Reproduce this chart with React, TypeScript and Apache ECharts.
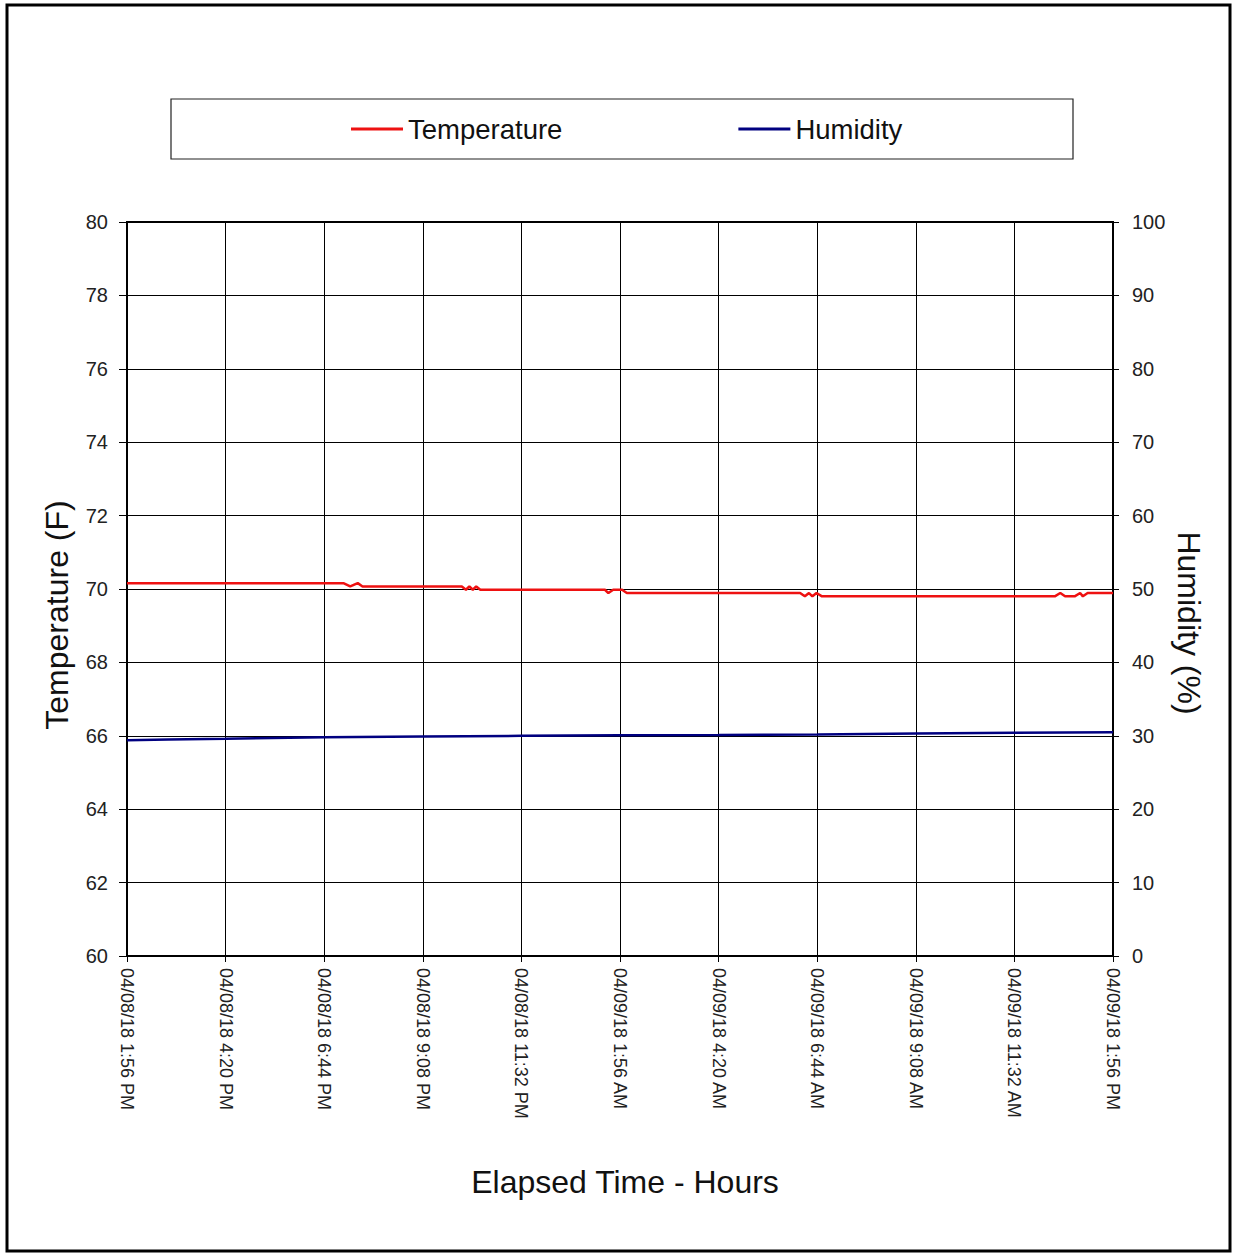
import React, { useEffect, useRef } from "react";
import * as echarts from "echarts";

// x values are minutes elapsed from 04/08/18 1:56 PM
const tickLabels = [
  "04/08/18 1:56 PM",
  "04/08/18 4:20 PM",
  "04/08/18 6:44 PM",
  "04/08/18 9:08 PM",
  "04/08/18 11:32 PM",
  "04/09/18 1:56 AM",
  "04/09/18 4:20 AM",
  "04/09/18 6:44 AM",
  "04/09/18 9:08 AM",
  "04/09/18 11:32 AM",
  "04/09/18 1:56 PM",
];

const tempMinutes = [
  0, 316, 326, 337, 344, 489, 495, 500, 505, 510, 516, 698, 703, 710, 723, 730,
  983, 990, 996, 1001, 1007, 1015, 1355, 1363, 1370, 1384, 1392, 1396, 1403, 1440,
];
const tempValues = [
  70.16, 70.16, 70.07, 70.16, 70.07, 70.07, 69.98, 70.07, 69.98, 70.07, 69.98, 69.98,
  69.89, 69.98, 69.98, 69.89, 69.89, 69.8, 69.89, 69.8, 69.89, 69.8, 69.8, 69.89,
  69.8, 69.8, 69.89, 69.8, 69.89, 69.89,
];

const humMinutes = [0, 60, 144, 288, 432, 576, 720, 864, 1008, 1152, 1296, 1440];
const humValues = [29.4, 29.5, 29.6, 29.8, 29.9, 30.0, 30.07, 30.1, 30.18, 30.3, 30.4, 30.5];

const FONT = "'Liberation Sans', Arial, Helvetica, sans-serif";

export default function App() {
  const ref = useRef<HTMLDivElement>(null);

  useEffect(() => {
    if (!ref.current) return;
    const chart = echarts.init(ref.current, undefined, { renderer: "svg" });
    const tempData = tempMinutes.map((m, i) => [m, tempValues[i]]);
    const humData = humMinutes.map((m, i) => [m, humValues[i]]);

    chart.setOption({
      animation: false,
      backgroundColor: "#ffffff",
      textStyle: { fontFamily: FONT },
      grid: {
        left: 127,
        right: 120,
        top: 222,
        bottom: 298,
        show: true,
        borderColor: "#000",
        borderWidth: 2,
        backgroundColor: "transparent",
      },
      legend: {
        left: 351,
        top: 115,
        padding: 0,
        itemWidth: 52,
        itemHeight: 3,
        itemGap: 176,
        icon: "rect",
        textStyle: { fontSize: 27.5, color: "#111", fontFamily: FONT },
        data: ["Temperature", "Humidity"],
      },
      xAxis: {
        type: "value",
        min: 0,
        max: 1440,
        interval: 144,
        axisLine: { show: true, lineStyle: { color: "#000", width: 2 } },
        axisTick: { show: true, length: 6, lineStyle: { color: "#000", width: 1 } },
        axisLabel: {
          rotate: -90,
          margin: 12,
          fontSize: 18,
          color: "#222",
          fontFamily: FONT,
          formatter: (v: number) => tickLabels[Math.round(v / 144)] ?? "",
        },
        splitLine: { show: true, lineStyle: { color: "#000", width: 1 } },
      },
      yAxis: [
        {
          type: "value",
          position: "left",
          min: 60,
          max: 80,
          interval: 2,
          axisLine: { show: true, lineStyle: { color: "#000", width: 2 } },
          axisTick: { show: true, length: 8, lineStyle: { color: "#000", width: 1 } },
          axisLabel: { margin: 19, fontSize: 20, color: "#222", fontFamily: FONT },
          splitLine: { show: true, lineStyle: { color: "#000", width: 1 } },
        },
        {
          type: "value",
          position: "right",
          min: 0,
          max: 100,
          interval: 10,
          axisLine: { show: true, lineStyle: { color: "#000", width: 2 } },
          axisTick: { show: true, length: 6, lineStyle: { color: "#000", width: 1 } },
          axisLabel: { margin: 19, fontSize: 20, color: "#222", fontFamily: FONT },
          splitLine: { show: false },
        },
      ],
      series: [
        {
          name: "Temperature",
          type: "line",
          yAxisIndex: 0,
          data: tempData,
          showSymbol: false,
          symbol: "none",
          color: "#ee1111",
          lineStyle: { color: "#ee1111", width: 2.5 },
          z: 4,
        },
        {
          name: "Humidity",
          type: "line",
          yAxisIndex: 1,
          data: humData,
          showSymbol: false,
          symbol: "none",
          color: "#000080",
          lineStyle: { color: "#000080", width: 2.5 },
          z: 3,
        },
      ],
      graphic: [
        {
          type: "rect",
          shape: { x: 7, y: 5, width: 1223, height: 1246 },
          style: { fill: "none", stroke: "#000", lineWidth: 3 },
          silent: true,
        },
        {
          type: "rect",
          shape: { x: 171, y: 99, width: 902, height: 60 },
          style: { fill: "none", stroke: "#222", lineWidth: 1.2 },
          silent: true,
        },
        {
          type: "text",
          x: 57,
          y: 615,
          rotation: Math.PI / 2,
          style: {
            text: "Temperature (F)",
            fontSize: 32,
            fontFamily: FONT,
            fill: "#111",
            align: "center",
            verticalAlign: "middle",
          },
        },
        {
          type: "text",
          x: 1189,
          y: 623,
          rotation: -Math.PI / 2,
          style: {
            text: "Humidity (%)",
            fontSize: 32,
            fontFamily: FONT,
            fill: "#111",
            align: "center",
            verticalAlign: "middle",
          },
        },
        {
          type: "text",
          x: 625,
          y: 1182,
          style: {
            text: "Elapsed Time - Hours",
            fontSize: 32,
            fontFamily: FONT,
            fill: "#111",
            align: "center",
            verticalAlign: "middle",
          },
        },
      ],
    });

    return () => chart.dispose();
  }, []);

  return (
    <div
      ref={ref}
      style={{ position: "absolute", left: 0, top: 0, width: 1233, height: 1254, background: "#fff" }}
    />
  );
}
